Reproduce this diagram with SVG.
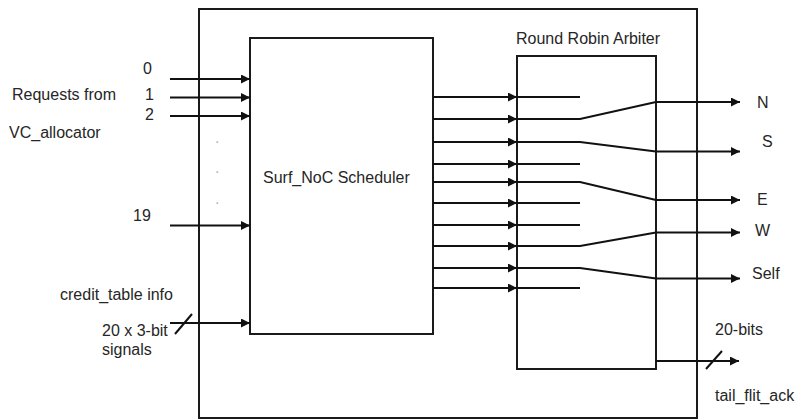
<svg xmlns="http://www.w3.org/2000/svg" width="806" height="419" viewBox="0 0 806 419">
<style>
.box{fill:none;stroke:#1a1a1a;stroke-width:2}
.ln{fill:none;stroke:#111;stroke-width:2}
.arr{fill:none;stroke:#111;stroke-width:2;marker-end:url(#ah)}
.t{font-family:"Liberation Sans",Arial,sans-serif;font-size:16px;fill:#262626}
.dot{font-family:"Liberation Sans",Arial,sans-serif;font-size:16px;fill:#b5b5b5}
</style>
<defs>
<marker id="ah" markerUnits="userSpaceOnUse" markerWidth="9" markerHeight="9" refX="9" refY="4.5" orient="auto">
<path d="M0,0 L9,4.5 L0,9 z" fill="#111"/>
</marker>
</defs>
<rect width="806" height="419" fill="#fff"/>
<g id="router">
<rect class="box" x="199" y="9" width="498" height="409"/>
</g>
<g id="scheduler">
<rect class="box" x="250" y="38" width="183" height="296"/>
<text class="t" x="263" y="183">Surf_NoC Scheduler</text>
</g>
<g id="arbiter">
<rect class="box" x="517" y="56" width="139" height="313"/>
<text class="t" x="516" y="44">Round Robin Arbiter</text>
</g>
<g id="inputs">
<text class="t" x="12" y="100">Requests from</text>
<text class="t" x="9" y="138">VC_allocator</text>
<text class="t" x="143" y="74">0</text>
<text class="t" x="145" y="100">1</text>
<text class="t" x="145" y="119.5">2</text>
<text class="dot" x="215" y="143">.</text>
<text class="dot" x="215" y="173">.</text>
<text class="dot" x="215" y="204">.</text>
<text class="t" x="133" y="221">19</text>
<text class="t" x="60" y="300">credit_table info</text>
<text class="t" x="102" y="335.5">20 x 3-bit</text>
<text class="t" x="102" y="355">signals</text>
</g>
<g id="outputs">
<text class="t" x="757" y="108">N</text>
<text class="t" x="762" y="147">S</text>
<text class="t" x="757" y="205">E</text>
<text class="t" x="755" y="236">W</text>
<text class="t" x="752" y="279">Self</text>
<text class="t" x="715" y="335">20-bits</text>
<text class="t" x="715" y="401">tail_flit_ack</text>
</g>
<g id="connectors">
<line class="arr" x1="170" y1="79" x2="250" y2="79"/>
<line class="arr" x1="170" y1="97.5" x2="250" y2="97.5"/>
<line class="arr" x1="170" y1="116" x2="250" y2="116"/>
<line class="arr" x1="170" y1="225.5" x2="250" y2="225.5"/>
<line class="arr" x1="170" y1="323" x2="250" y2="323"/>
<line class="ln" x1="175" y1="334" x2="192" y2="314"/>
<line class="arr" x1="433" y1="97" x2="517" y2="97"/>
<line class="arr" x1="433" y1="119" x2="517" y2="119"/>
<line class="arr" x1="433" y1="142" x2="517" y2="142"/>
<line class="arr" x1="433" y1="164" x2="517" y2="164"/>
<line class="arr" x1="433" y1="182" x2="517" y2="182"/>
<line class="arr" x1="433" y1="203" x2="517" y2="203"/>
<line class="arr" x1="433" y1="225" x2="517" y2="225"/>
<line class="arr" x1="433" y1="246" x2="517" y2="246"/>
<line class="arr" x1="433" y1="268" x2="517" y2="268"/>
<line class="arr" x1="433" y1="288" x2="517" y2="288"/>
<line class="ln" x1="517" y1="97" x2="580" y2="97"/>
<polyline class="ln" points="517,119 580,119 656,102"/>
<polyline class="ln" points="517,142 580,142 656,151.5"/>
<line class="ln" x1="517" y1="164" x2="580" y2="164"/>
<polyline class="ln" points="517,182 580,182 656,200"/>
<line class="ln" x1="517" y1="203" x2="580" y2="203"/>
<line class="ln" x1="517" y1="225" x2="580" y2="225"/>
<polyline class="ln" points="517,246 580,246 656,232.5"/>
<polyline class="ln" points="517,268 580,268 656,278.5"/>
<line class="ln" x1="517" y1="288" x2="580" y2="288"/>
<line class="arr" x1="656" y1="102" x2="740" y2="102"/>
<line class="arr" x1="656" y1="151.5" x2="740" y2="151.5"/>
<line class="arr" x1="656" y1="200" x2="740" y2="200"/>
<line class="arr" x1="656" y1="232.5" x2="740" y2="232.5"/>
<line class="arr" x1="656" y1="278.5" x2="740" y2="278.5"/>
<line class="arr" x1="656" y1="361" x2="739" y2="361"/>
<line class="ln" x1="706" y1="369" x2="722" y2="351"/>
</g>
</svg>
